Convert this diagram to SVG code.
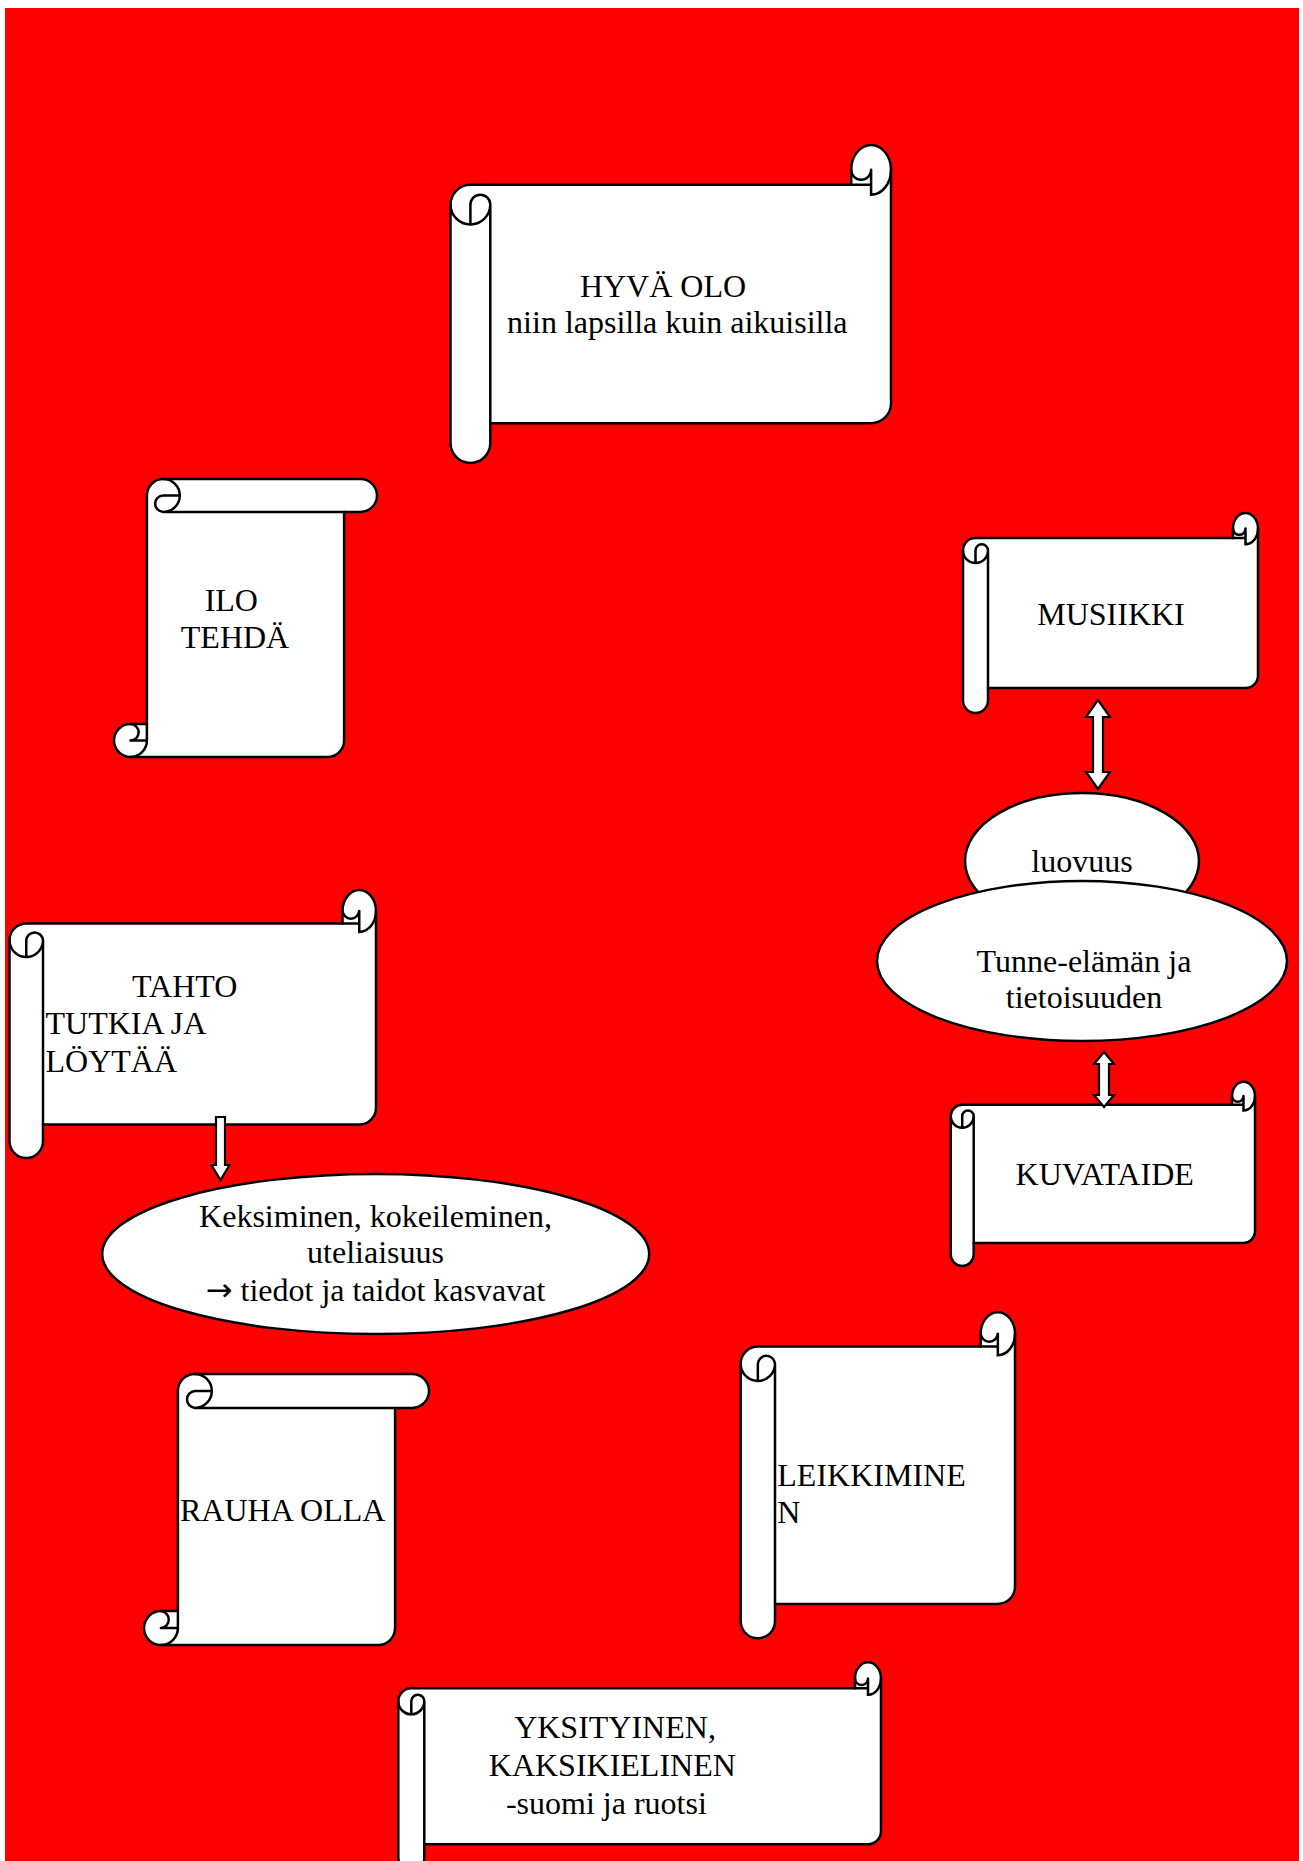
<svg xmlns="http://www.w3.org/2000/svg" width="1303" height="1861" viewBox="0 0 1303 1861">
<style>
.s{fill:#fff;stroke:#000;stroke-width:2.5;stroke-linejoin:round}
.d{fill:none;stroke:#000;stroke-width:2.5;stroke-linecap:round}
.t{font-family:"Liberation Serif","Times New Roman",serif;font-size:32px;fill:#000}
.m{text-anchor:middle}
.a{fill:#fff;stroke:#000;stroke-width:2.2;stroke-linejoin:miter}
.ar{font-family:"DejaVu Sans",sans-serif}
</style>
<rect x="5" y="8" width="1294" height="1853" fill="#ff0000"/>

<g id="hyva-olo">
<g transform="translate(450.5,145)">
<path class="s" d="M0,59.6 A19.9,19.9 0 0 1 19.9,39.8 L400.7,39.8 L400.7,24.8 A19.9,24.8 0 0 1 440.5,24.8 L440.5,258.4 A19.9,19.9 0 0 1 420.6,278.2 L39.8,278.2 L39.8,298.1 A19.9,19.9 0 0 1 0,298.1 Z"/>
<path class="d" d="M39.8,59.6 L39.8,278.2 M39.8,59.6 A19.9,19.9 0 0 1 0,59.6 M19.9,79.5 L19.9,59.6 A9.9,9.9 0 0 1 39.8,59.6 M400.7,39.8 L420.6,39.8 M420.6,24.8 L420.6,49.7 A19.9,24.8 0 0 0 440.5,24.8 M420.6,24.8 A9.9,9.9 0 0 1 400.7,24.8"/>
</g>
<text class="t m" x="663" y="296.7">HYVÄ OLO</text>
<text class="t m" x="677.3" y="333.3">niin lapsilla kuin aikuisilla</text>
</g>

<g id="ilo-tehda">
<g transform="translate(114,479)">
<path class="s" d="M49.35,0 A16.45,16.45 0 0 0 32.9,16.45 L32.9,245.1 L16.45,245.1 A16.45,16.45 0 0 0 16.45,278 L213.65,278 A16.45,16.45 0 0 0 230.1,261.55 L230.1,32.9 L246.55,32.9 A16.45,16.45 0 0 0 246.55,0 Z"/>
<path class="d" d="M49.35,32.9 L230.1,32.9 M49.35,32.9 A16.45,16.45 0 0 0 49.35,0 M65.8,16.45 L49.35,16.45 A8.2,8.2 0 0 0 49.35,32.9 M32.9,245.1 L32.9,261.55 A16.45,16.45 0 0 1 16.45,278 M16.45,261.55 L32.9,261.55 M16.45,261.55 A8.2,8.2 0 0 0 16.45,245.1"/>
</g>
<text class="t m" x="231.3" y="610.7">ILO</text>
<text class="t m" x="235" y="648.3">TEHDÄ</text>
</g>

<g id="musiikki">
<g transform="translate(963,513)">
<path class="s" d="M0,37.5 A12.5,12.5 0 0 1 12.5,25 L270,25 L270,15.6 A12.5,15.6 0 0 1 295,15.6 L295,162.5 A12.5,12.5 0 0 1 282.5,175 L25,175 L25,187.5 A12.5,12.5 0 0 1 0,187.5 Z"/>
<path class="d" d="M25,37.5 L25,175 M25,37.5 A12.5,12.5 0 0 1 0,37.5 M12.5,50 L12.5,37.5 A6.25,6.25 0 0 1 25,37.5 M270,25 L282.5,25 M282.5,15.6 L282.5,31.25 A12.5,15.6 0 0 0 295,15.6 M282.5,15.6 A6.25,6.25 0 0 1 270,15.6"/>
</g>
<text class="t m" x="1111" y="625">MUSIIKKI</text>
</g>

<g id="luovuus">
<ellipse class="s" cx="1082" cy="861" rx="117" ry="68"/>
<text class="t m" x="1082" y="872">luovuus</text>
</g>

<g id="tunne-elama">
<ellipse class="s" cx="1082" cy="961" rx="205" ry="80"/>
<text class="t m" x="1084" y="972">Tunne-elämän ja</text>
<text class="t m" x="1084" y="1008">tietoisuuden</text>
</g>

<g id="kuvataide">
<g transform="translate(950.7,1081.7)">
<path class="s" d="M0,34.5 A11.5,11.5 0 0 1 11.5,23 L281.3,23 L281.3,14.4 A11.5,14.4 0 0 1 304.3,14.4 L304.3,149.8 A11.5,11.5 0 0 1 292.8,161.3 L23,161.3 L23,172.8 A11.5,11.5 0 0 1 0,172.8 Z"/>
<path class="d" d="M23,34.5 L23,161.3 M23,34.5 A11.5,11.5 0 0 1 0,34.5 M11.5,46 L11.5,34.5 A5.75,5.75 0 0 1 23,34.5 M281.3,23 L292.8,23 M292.8,14.4 L292.8,28.8 A11.5,14.4 0 0 0 304.3,14.4 M292.8,14.4 A5.75,5.75 0 0 1 281.3,14.4"/>
</g>
<text class="t m" x="1104.7" y="1185">KUVATAIDE</text>
</g>

<g id="tahto">
<g transform="translate(9.5,890)">
<path class="s" d="M0,50.25 A16.75,16.75 0 0 1 16.75,33.5 L333,33.5 L333,20.9 A16.75,20.9 0 0 1 366.5,20.9 L366.5,217.75 A16.75,16.75 0 0 1 349.75,234.5 L33.5,234.5 L33.5,251.25 A16.75,16.75 0 0 1 0,251.25 Z"/>
<path class="d" d="M33.5,50.25 L33.5,234.5 M33.5,50.25 A16.75,16.75 0 0 1 0,50.25 M16.75,67 L16.75,50.25 A8.4,8.4 0 0 1 33.5,50.25 M333,33.5 L349.75,33.5 M349.75,20.9 L349.75,41.9 A16.75,20.9 0 0 0 366.5,20.9 M349.75,20.9 A8.4,8.4 0 0 1 333,20.9"/>
</g>
<text class="t m" x="184.7" y="997.3">TAHTO</text>
<text class="t" x="45.5" y="1034">TUTKIA JA</text>
<text class="t" x="45.5" y="1072">LÖYTÄÄ</text>
</g>

<g id="keksiminen">
<ellipse class="s" cx="375.7" cy="1254" rx="273.5" ry="80"/>
<text class="t m" x="375.5" y="1226.7">Keksiminen, kokeileminen,</text>
<text class="t m" x="375.5" y="1263.3">uteliaisuus</text>
<text class="t m" x="375.5" y="1300.7"><tspan class="ar">→</tspan> tiedot ja taidot kasvavat</text>
</g>

<g id="rauha-olla">
<g transform="translate(144,1374)">
<path class="s" d="M50.85,0 A16.95,16.95 0 0 0 33.9,16.95 L33.9,237.1 L16.95,237.1 A16.95,16.95 0 0 0 16.95,271 L234.15,271 A16.95,16.95 0 0 0 251.1,254.05 L251.1,33.9 L268.05,33.9 A16.95,16.95 0 0 0 268.05,0 Z"/>
<path class="d" d="M50.85,33.9 L251.1,33.9 M50.85,33.9 A16.95,16.95 0 0 0 50.85,0 M67.8,16.95 L50.85,16.95 A8.5,8.5 0 0 0 50.85,33.9 M33.9,237.1 L33.9,254.05 A16.95,16.95 0 0 1 16.95,271 M16.95,254.05 L33.9,254.05 M16.95,254.05 A8.5,8.5 0 0 0 16.95,237.1"/>
</g>
<text class="t" x="180" y="1520.7">RAUHA OLLA</text>
</g>

<g id="leikkiminen">
<g transform="translate(740.7,1312.3)">
<path class="s" d="M0,51.45 A17.15,17.15 0 0 1 17.15,34.3 L240,34.3 L240,21.4 A17.15,21.4 0 0 1 274.3,21.4 L274.3,274.55 A17.15,17.15 0 0 1 257.15,291.7 L34.3,291.7 L34.3,308.85 A17.15,17.15 0 0 1 0,308.85 Z"/>
<path class="d" d="M34.3,51.45 L34.3,291.7 M34.3,51.45 A17.15,17.15 0 0 1 0,51.45 M17.15,68.6 L17.15,51.45 A8.6,8.6 0 0 1 34.3,51.45 M240,34.3 L257.15,34.3 M257.15,21.4 L257.15,42.9 A17.15,21.4 0 0 0 274.3,21.4 M257.15,21.4 A8.6,8.6 0 0 1 240,21.4"/>
</g>
<text class="t" x="777.3" y="1485.7">LEIKKIMINE</text>
<text class="t" x="777.3" y="1522.7">N</text>
</g>

<g id="yksityinen">
<g transform="translate(398.3,1662.3)">
<path class="s" d="M0,39 A13,13 0 0 1 13,26 L456.7,26 L456.7,16.25 A13,16.25 0 0 1 482.7,16.25 L482.7,169 A13,13 0 0 1 469.7,182 L26,182 L26,195 A13,13 0 0 1 0,195 Z"/>
<path class="d" d="M26,39 L26,182 M26,39 A13,13 0 0 1 0,39 M13,52 L13,39 A6.5,6.5 0 0 1 26,39 M456.7,26 L469.7,26 M469.7,16.25 L469.7,32.5 A13,16.25 0 0 0 482.7,16.25 M469.7,16.25 A6.5,6.5 0 0 1 456.7,16.25"/>
</g>
<text class="t m" x="615" y="1738.3">YKSITYINEN,</text>
<text class="t m" x="612.3" y="1776">KAKSIKIELINEN</text>
<text class="t m" x="606.4" y="1814">-suomi ja ruotsi</text>
</g>

<g id="connectors">
<polygon class="a" points="1098,700 1110,717 1103,717 1103,772 1110,772 1098,789 1086,772 1093,772 1093,717 1086,717"/>
<polygon class="a" points="1104,1052 1114,1064 1109,1064 1109,1095 1114,1095 1104,1107 1094,1095 1099,1095 1099,1064 1094,1064"/>
<polygon class="a" points="216,1117 225,1117 225,1165 229.5,1165 220.5,1180 211.5,1165 216,1165"/>
</g>
</svg>
